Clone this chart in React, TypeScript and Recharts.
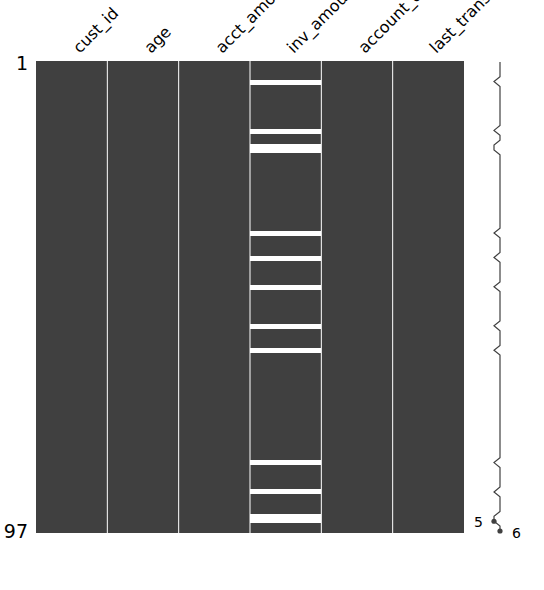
import React from "react";
import {
  Bar,
  BarChart,
  Cell,
  Line,
  LineChart,
  ReferenceLine,
  XAxis,
  YAxis,
} from "recharts";

const columns = ["cust_id", "age", "acct_amount", "inv_amount", "account_opened", "last_transaction"];
const rowCount = 97;
// 0-based rows where inv_amount is missing
const missingInvRows = [4, 14, 17, 18, 35, 40, 46, 54, 59, 82, 88, 93, 94];
const rowTickLabels = ["1", "97"];

const FONT = "DejaVu Sans, sans-serif";
const filled = "#404040";

const rows = Array.from({ length: rowCount }, (_, i) => {
  const r: Record<string, number> = { row: i };
  columns.forEach((c) => {
    r[c] = 1;
  });
  return r;
});

const completeness = rows.map((r) => ({
  row: r.row,
  filled: columns.length - (missingInvRows.includes(r.row) ? 1 : 0),
}));

const minValue = Math.min(...completeness.map((d) => d.filled));
const maxValue = Math.max(...completeness.map((d) => d.filled));
const minIndex = completeness.map((d) => d.filled).lastIndexOf(minValue);
const maxIndex = completeness.map((d) => d.filled).lastIndexOf(maxValue);

const isMissing = (col: string, row: number) =>
  col === "inv_amount" && missingInvRows.includes(row);

function ColumnTick(props: any) {
  const { x, y, payload } = props;
  const label = columns[Math.floor(payload.value)];
  return (
    <g transform={`translate(${x + 8},${y + 1})`}>
      <text transform="rotate(-45)" textAnchor="start" fontSize={16} fontFamily={FONT} fill="#000">
        {label}
      </text>
    </g>
  );
}

function RowTick(props: any) {
  const { x, y, index } = props;
  let label = "";
  if (index === 0) label = rowTickLabels[0];
  if (index === rowCount - 1) label = rowTickLabels[1];
  if (!label) return <g />;
  return (
    <text x={x} y={y} textAnchor="end" dominantBaseline="central" fontSize={19} fontFamily={FONT} fill="#000">
      {label}
    </text>
  );
}

function SparkDot(props: any) {
  const { cx, cy, index } = props;
  if (index === minIndex) {
    return (
      <g key={`d${index}`}>
        <circle cx={cx} cy={cy} r={2.6} fill={filled} />
        <text x={cx - 11} y={cy + 1} textAnchor="end" dominantBaseline="central" fontSize={14} fontFamily={FONT} fill="#000">
          {minValue}
        </text>
      </g>
    );
  }
  if (index === maxIndex) {
    return (
      <g key={`d${index}`}>
        <circle cx={cx} cy={cy} r={2.6} fill={filled} />
        <text x={cx + 12} y={cy + 2} textAnchor="start" dominantBaseline="central" fontSize={14} fontFamily={FONT} fill="#000">
          {maxValue}
        </text>
      </g>
    );
  }
  return <g key={`d${index}`} />;
}

export default function App() {
  return (
    <div style={{ position: "absolute", left: 0, top: 0, width: 544, height: 590, background: "#fff" }}>
      <div style={{ position: "absolute", left: 0, top: 0 }}>
        <BarChart
          width={544}
          height={590}
          data={rows}
          layout="vertical"
          margin={{ top: 21, right: 80, bottom: 57, left: 0 }}
          barCategoryGap={0}
          barGap={0}
        >
          <XAxis
            type="number"
            orientation="top"
            domain={[0, columns.length]}
            ticks={columns.map((_, i) => i + 0.5)}
            height={40}
            axisLine={false}
            tickLine={false}
            interval={0}
            tick={<ColumnTick />}
          />
          <YAxis
            type="category"
            dataKey="row"
            width={36}
            axisLine={false}
            tickLine={false}
            interval={0}
            tick={<RowTick />}
          />
          {columns.map((c) => (
            <Bar key={c} dataKey={c} stackId="m" isAnimationActive={false} shapeRendering="crispEdges">
              {rows.map((r) => (
                <Cell key={`${c}-${r.row}`} fill={isMissing(c, r.row) ? "#ffffff" : filled} />
              ))}
            </Bar>
          ))}
          {columns.slice(1).map((_, i) => (
            <ReferenceLine key={i} x={i + 1} stroke="#ffffff" strokeWidth={1} />
          ))}
        </BarChart>
      </div>
      <div style={{ position: "absolute", left: 0, top: 0 }}>
        <LineChart
          width={544}
          height={590}
          data={completeness}
          layout="vertical"
          margin={{ top: 62, right: 44, bottom: 59, left: 494 }}
        >
          <XAxis type="number" dataKey="filled" domain={[minValue, maxValue]} hide />
          <YAxis type="number" dataKey="row" domain={[0, rowCount - 1]} hide />
          <Line
            dataKey="filled"
            stroke={filled}
            strokeWidth={1.2}
            dot={<SparkDot />}
            activeDot={false}
            isAnimationActive={false}
          />
        </LineChart>
      </div>
    </div>
  );
}
